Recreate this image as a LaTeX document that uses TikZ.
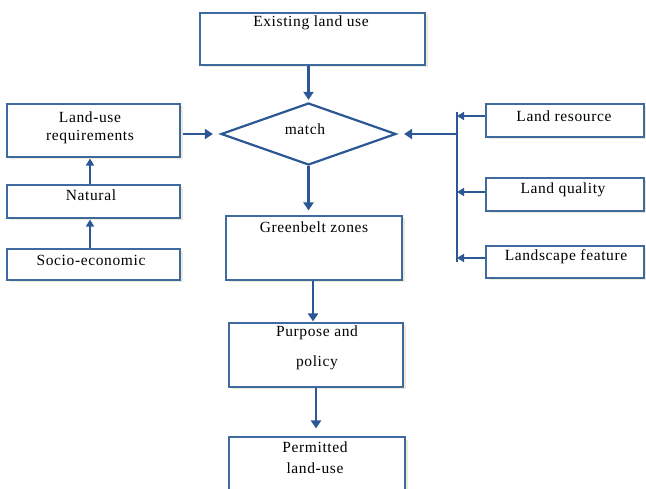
\documentclass[tikz,border=0pt]{standalone}
\usepackage{fontspec}
\setmainfont{Liberation Serif}[LetterSpace=4]
\usetikzlibrary{arrows.meta,shapes.geometric,shadows}
\definecolor{boxblue}{HTML}{3E6A9E}
\definecolor{arrblue}{HTML}{2B5794}
\definecolor{shadecol}{HTML}{ECEADB}
\begin{document}
\begin{tikzpicture}[x=1pt,y=-1pt,
 box/.style={draw=boxblue,line width=1.1pt,fill=white,inner sep=0,
   drop shadow={shadow xshift=2.5pt,shadow yshift=-2.5pt,fill=shadecol,opacity=1}},
 lbl/.style={font=\fontsize{15.5}{20}\selectfont,inner sep=0,align=center},
 arr/.style={draw=arrblue,line width=2.2pt,-{Triangle[length=8pt,width=10pt]}},
 thinarr/.style={draw=arrblue,line width=1.5pt,-{Triangle[length=7pt,width=8pt]}},
 thinln/.style={draw=arrblue,line width=1.5pt}]
\useasboundingbox (0,0) rectangle (646,489);
\clip (0,0) rectangle (646,489);
\fill[white] (0,0) rectangle (646,489);
% boxes
\node[box,minimum width=225pt,minimum height=52pt] (exist) at (312.5,39) {};
\node[box,minimum width=173pt,minimum height=53pt] (req) at (93.5,130.5) {};
\node[box,minimum width=173pt,minimum height=33pt] (nat) at (93.5,201.5) {};
\node[box,minimum width=173pt,minimum height=31pt] (socio) at (93.5,264.5) {};
\node[box,minimum width=158pt,minimum height=33pt] (lres) at (565,120.5) {};
\node[box,minimum width=158pt,minimum height=33pt] (lqual) at (565,194.5) {};
\node[box,minimum width=158pt,minimum height=32pt] (lscape) at (565,262) {};
\node[box,minimum width=176pt,minimum height=64pt] (green) at (314,248) {};
\node[box,minimum width=174pt,minimum height=64pt] (purp) at (316,355) {};
\node[box,minimum width=176pt,minimum height=60pt] (perm) at (317,467) {};
\node[draw=arrblue,line width=2.2pt,diamond,inner sep=0,minimum width=175pt,minimum height=62pt,fill=white] (dia) at (308.5,134) {};
% texts
\node[lbl] (texist) at (311,23) {Existing land use};
\node[lbl] (treq1) at (90,117) {Land-use};
\node[lbl] (treq2) at (90,137) {requirements};
\node[lbl] (tmatch) at (305,129) {match};
\node[lbl] (tlres) at (564,116) {Land resource};
\node[lbl] (tnat) at (91,195) {Natural};
\node[lbl] (tsocio) at (91,260) {Socio-economic};
\node[lbl] (tlqual) at (563,190) {Land quality};
\node[lbl] (tlscape) at (566,257) {Landscape feature};
\node[lbl] (tgreen) at (314,227) {Greenbelt zones};
\node[lbl] (tpurp1) at (317,333) {Purpose and};
\node[lbl] (tpurp2) at (317,363) {policy};
\node[lbl] (tperm1) at (315,447) {Permitted};
\node[lbl] (tperm2) at (315,468) {land-use};
% connectors
\draw[arr,shorten >=2pt] (exist.south -| dia.north) -- (dia.north);
\draw[arr,shorten >=5pt] (dia.south) -- (dia.south |- green.north);
\draw[arr,shorten >=1pt] ([xshift=-1pt]green.south) -- ([xshift=-1pt]green.south |- purp.north);
\draw[arr,shorten >=8pt] (purp.south) -- (purp.south |- perm.north);
\draw[arr,shorten <=2pt,shorten >=7pt] (req.east |- dia.west) -- (dia.west);
\coordinate (bus) at (457,134);
\coordinate (bustop) at (457,112);
\coordinate (busbot) at (457,262);
\draw[thinln] (bustop) -- (busbot);
\draw[arr,shorten >=7pt] (bus) -- (dia.east);
\draw[thinarr] ([yshift=4.5pt]lres.west) -- ([yshift=4.5pt]lres.west -| bus);
\draw[thinarr] ([yshift=2.5pt]lqual.west) -- ([yshift=2.5pt]lqual.west -| bus);
\draw[thinarr] ([yshift=4pt]lscape.west) -- ([yshift=4pt]lscape.west -| bus);
\draw[thinarr,shorten >=1pt] ([xshift=-3.5pt]nat.north) -- ([xshift=-3.5pt]req.south);
\draw[thinarr,shorten >=1pt] ([xshift=-3.5pt]socio.north) -- ([xshift=-3.5pt]nat.south);
\end{tikzpicture}
\end{document}
